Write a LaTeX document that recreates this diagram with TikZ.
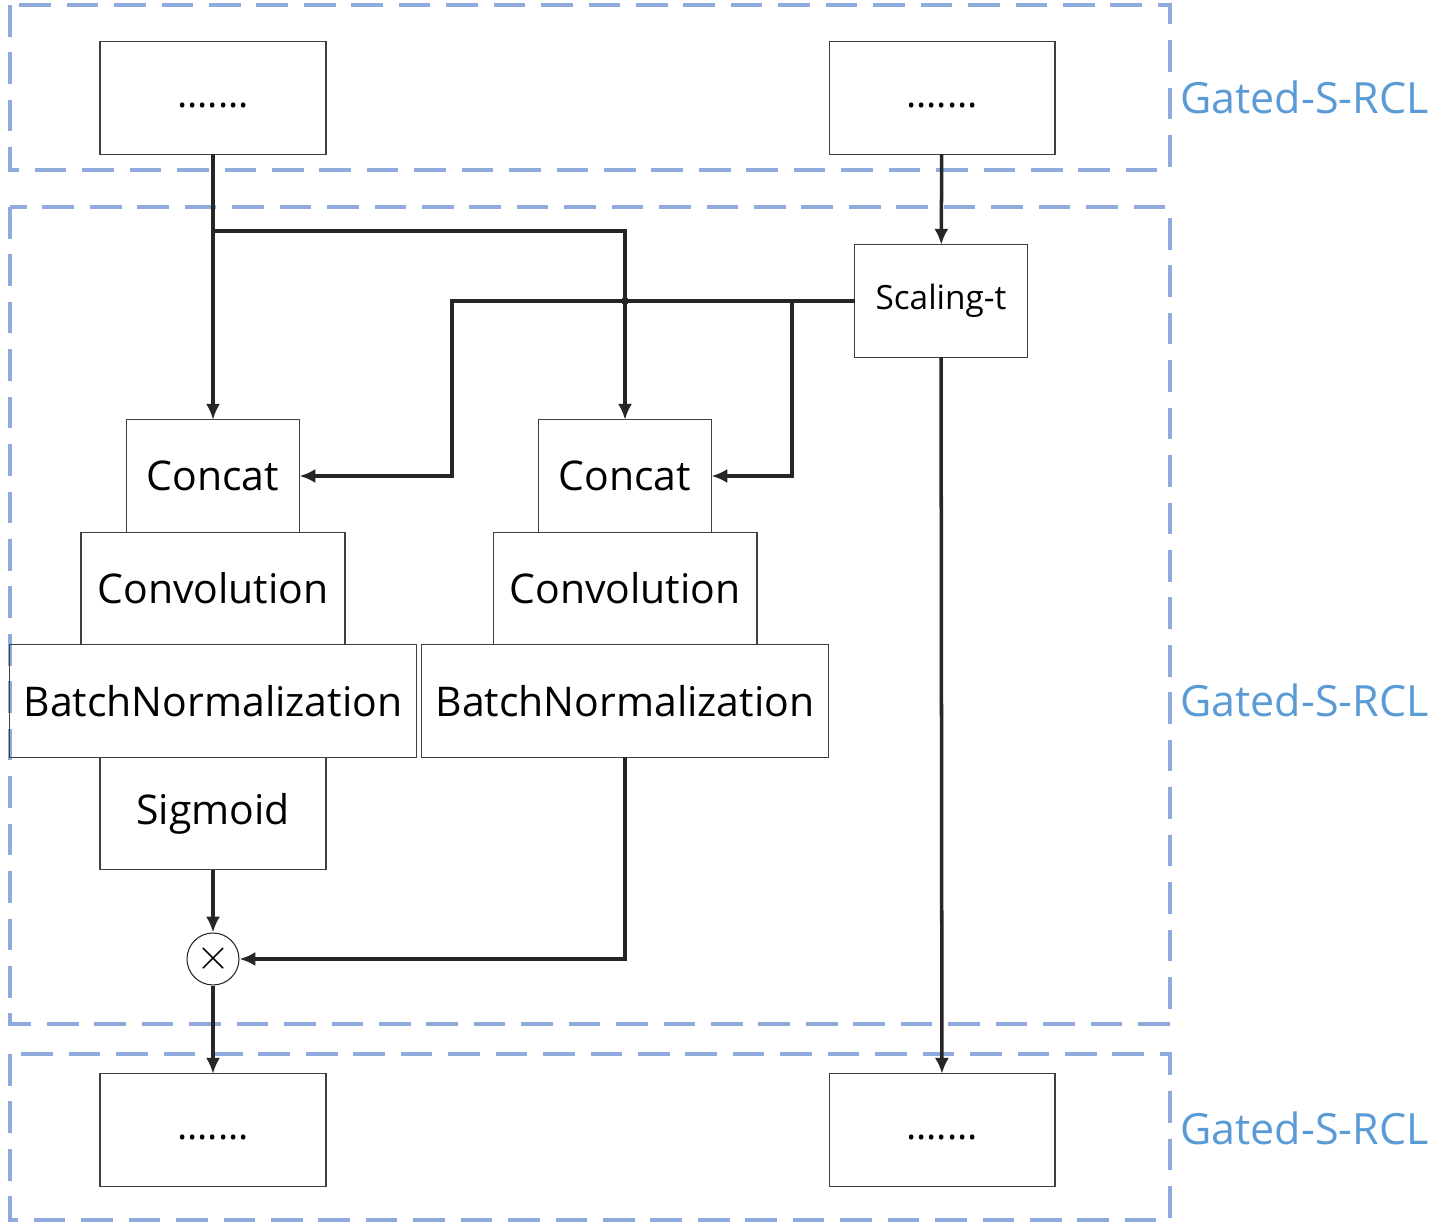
\documentclass[tikz,border=0pt]{standalone}
\usepackage{fontspec}
\setmainfont{Open Sans}
\usetikzlibrary{arrows.meta,positioning}

\definecolor{layerblue}{HTML}{8FAADC}
\definecolor{labelblue}{HTML}{5B9BD5}
\definecolor{linegray}{HTML}{262626}

\tikzset{
  block/.style={draw=black!75, line width=0.6pt, rectangle, outer sep=0pt, inner sep=0pt,
    minimum height=2.25cm, font=\fontsize{23.3}{27}\selectfont},
  dots/.style={font=\fontsize{22}{26}\selectfont},
  layer/.style={draw=layerblue, line width=2.2pt, dash pattern=on 18pt off 9pt},
  lbl/.style={anchor=west, text=labelblue, inner sep=0pt, font=\fontsize{24.5}{28}\selectfont},
  link/.style={draw=linegray, line width=2pt},
  arr/.style={link, -{Latex[length=9pt,width=8pt]}},
}

\begin{document}
\begin{tikzpicture}[x=0.02cm, y=-0.02cm]
        \useasboundingbox (0,0) rectangle (1445,1229);

        % Layers
        \draw [layer] (10,5) rectangle (1170,170);
        \draw [layer] (10,207) rectangle (1170,1024);
        \draw [layer] (10,1054) rectangle (1170,1220);
        \node (lbltop) [lbl] at (1180,97) {Gated-S-RCL};
        \node (lblmid) [lbl] at (1180,700) {Gated-S-RCL};
        \node (lblbot) [lbl] at (1180,1128) {Gated-S-RCL};

        % Previous layer
        \node (topl) [block, dots, minimum width=4.52cm] at (213,98) {\vphantom{Ag}.......};
        \node (topr) [block, dots, minimum width=4.52cm] at (942,98) {\vphantom{Ag}.......};

        % Gate branch
        \node (concatl) [block, minimum width=3.46cm] at (213,476) {Concat};
        \node (convl) [block, below=0pt of concatl, minimum width=5.28cm] {Convolution};
        \node (bnl) [block, below=0pt of convl, minimum width=8.14cm] {BatchNormalization};
        \node (sigl) [block, below=0pt of bnl, minimum width=4.52cm] {Sigmoid};

        % Feature branch
        \node (concatr) [block, minimum width=3.46cm] at (625,476) {Concat};
        \node (convr) [block, below=0pt of concatr, minimum width=5.28cm] {Convolution};
        \node (bnr) [block, below=0pt of convr, minimum width=8.14cm] {BatchNormalization};

        % Scaling and product
        \node (scal) [block, minimum width=3.46cm, font=\fontsize{19}{22}\selectfont] at (941,301) {Scaling-t};
        \node (mul) [draw=black!85, line width=0.6pt, circle, minimum size=1.04cm, inner sep=0pt,
          font=\fontsize{26}{30}\selectfont] at (213,959) {$\times$};

        % Next layer
        \node (botl) [block, dots, minimum width=4.52cm] at (213,1130) {\vphantom{Ag}.......};
        \node (botr) [block, dots, minimum width=4.52cm] at (942,1130) {\vphantom{Ag}.......};

        % Bends
        \coordinate (split1) at (213,231);
        \coordinate (bendl) at (452,301);
        \coordinate (split2) at (792,301);
        \coordinate (cross) at (625,301);

        % Arrows
        \draw [arr] (topl) -- (concatl);
        \draw [arr] (split1) -| (concatr);
        \draw [arr] (topr) -- (scal);
        \draw [arr] (scal.west) -- (bendl) |- (concatl);
        \draw [arr] (split2) |- (concatr);
        \fill [linegray] (cross) circle (2.2pt);
        \draw [arr] (scal) -- (botr);
        \draw [arr] (sigl) -- (mul);
        \draw [arr] (bnr) |- (mul);
        \draw [arr] (mul) -- (botl);
\end{tikzpicture}
\end{document}
